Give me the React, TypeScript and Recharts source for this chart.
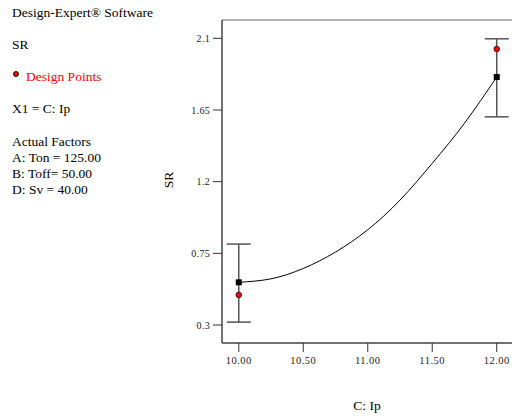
import React from "react";
import {
  ComposedChart,
  Line,
  Scatter,
  XAxis,
  YAxis,
  ErrorBar,
  ReferenceArea,
} from "recharts";

const curveX = [10, 10.25, 10.5, 10.75, 11, 11.25, 11.5, 11.75, 12];
const curveSR = [0.568, 0.59, 0.655, 0.758, 0.898, 1.084, 1.315, 1.567, 1.857];
const designX = [10, 12];
const designSR = [0.489, 2.033];
const predictedSR = [0.568, 1.857];
const errLow = [0.25, 0.25];
const errHigh = [0.24, 0.24];
const xTicks = [10, 10.5, 11, 11.5, 12];
const yTicks = [0.3, 0.75, 1.2, 1.65, 2.1];
const xDomain = [9.87, 12.13];
const yDomain = [0.187, 2.215];

const infoLines = [
  { text: "Design-Expert\u00AE Software", y: 17, color: "#000" },
  { text: "SR", y: 49, color: "#000" },
  { text: "X1 = C: Ip", y: 113, color: "#000" },
  { text: "Actual Factors", y: 146, color: "#000" },
  { text: "A: Ton = 125.00", y: 162, color: "#000" },
  { text: "B: Toff= 50.00", y: 178, color: "#000" },
  { text: "D: Sv = 40.00", y: 194, color: "#000" },
];

const curveData = curveX.map((x, i) => ({ x, y: curveSR[i] }));
const designData = designX.map((x, i) => ({ x, y: designSR[i] }));
const predData = designX.map((x, i) => ({
  x,
  y: predictedSR[i],
  err: [errLow[i], errHigh[i]],
}));

const FONT = "'Liberation Serif', 'Times New Roman', serif";

const RedDot = (props: any) => {
  const { cx, cy } = props;
  if (cx == null || cy == null) return null;
  return <circle cx={cx} cy={cy} r={2.8} fill="#ff0000" stroke="#111" strokeWidth={0.8} />;
};

const Square = (props: any) => {
  const { cx, cy } = props;
  if (cx == null || cy == null) return null;
  return <rect x={cx - 3} y={cy - 3} width={6} height={6} fill="#000" />;
};

export default function App() {
  return (
    <div
      style={{
        position: "absolute",
        left: 0,
        top: 0,
        width: 512,
        height: 418,
        overflow: "hidden",
        background: "#fff",
      }}
    >
      <ComposedChart
        width={520}
        height={418}
        margin={{ top: 20, right: 6.5, bottom: 45, left: 162 }}
      >
        <XAxis
          type="number"
          dataKey="x"
          domain={xDomain}
          ticks={xTicks}
          allowDataOverflow
          tickFormatter={(v: number) => v.toFixed(2)}
          height={30}
          tickSize={9}
          tickMargin={5}
          axisLine={{ stroke: "#333" }}
          tickLine={{ stroke: "#333" }}
          tick={{ fontFamily: FONT, fontSize: 10.5, fill: "#222", letterSpacing: 0.5 }}
        />
        <YAxis
          type="number"
          dataKey="y"
          domain={yDomain}
          ticks={yTicks}
          allowDataOverflow
          width={60}
          tickSize={9}
          tickMargin={3}
          axisLine={{ stroke: "#333" }}
          tickLine={{ stroke: "#333" }}
          tick={{ fontFamily: FONT, fontSize: 10, fill: "#222", letterSpacing: 0.3 }}
        />
        <ReferenceArea
          x1={xDomain[0]}
          x2={xDomain[1]}
          y1={yDomain[0]}
          y2={yDomain[1]}
          fill="none"
          stroke="#666"
          strokeWidth={1}
          ifOverflow="visible"
        />
        <Line
          data={curveData}
          dataKey="y"
          type="natural"
          stroke="#000"
          strokeWidth={1}
          dot={false}
          isAnimationActive={false}
        />
        <Scatter data={predData} dataKey="y" shape={Square} isAnimationActive={false}>
          <ErrorBar dataKey="err" direction="y" width={12} stroke="#555" strokeWidth={1.5} />
        </Scatter>
        <Scatter data={designData} dataKey="y" shape={RedDot} isAnimationActive={false} />
      </ComposedChart>
      <svg
        width={512}
        height={418}
        style={{ position: "absolute", left: 0, top: 0, pointerEvents: "none" }}
      >
        <g fontFamily={FONT} fontSize={13.5}>
          {infoLines.map((l) => (
            <text key={l.text} x={12} y={l.y} fill={l.color}>
              {l.text}
            </text>
          ))}
          <circle cx={16} cy={74} r={2.5} fill="#ff0000" stroke="#111" strokeWidth={1} />
          <text x={26} y={81} fill="#ff0000">
            Design Points
          </text>
          <text x={367} y={410} textAnchor="middle" fill="#000">
            C: Ip
          </text>
          <text
            x={173}
            y={180}
            textAnchor="middle"
            transform="rotate(-90 173 180)"
            fill="#000"
          >
            SR
          </text>
        </g>
      </svg>
    </div>
  );
}
